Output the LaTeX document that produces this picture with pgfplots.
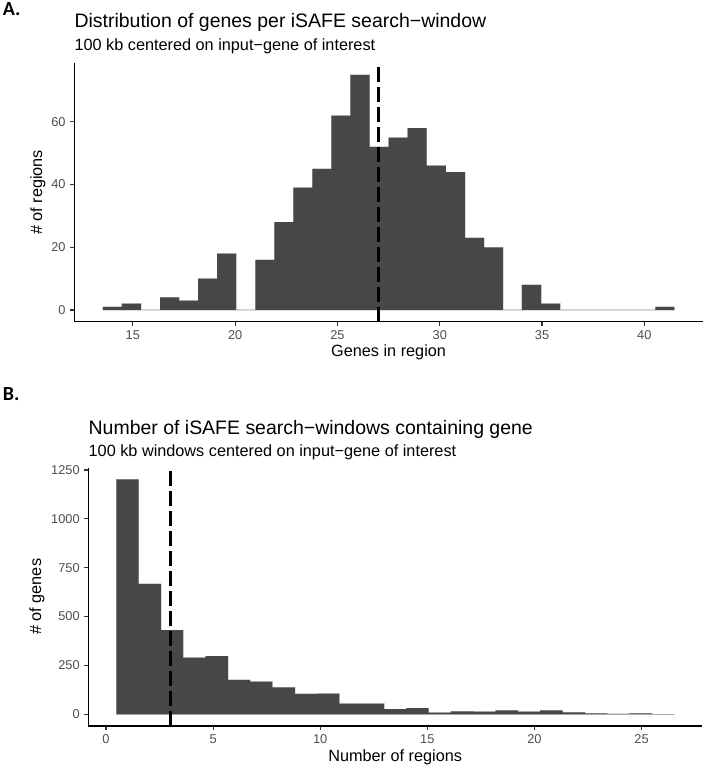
\documentclass[border=0pt]{standalone}
\usepackage{fontspec}
\setmainfont{Liberation Sans}
\newfontfamily\carlito{Carlito}
\usepackage{pgfplots}
\usepackage{pgfplotstable}
\pgfplotsset{compat=1.18}

\definecolor{barfill}{HTML}{474747}
\definecolor{barline}{HTML}{DADADA}
\definecolor{ticklab}{HTML}{4D4D4D}
\definecolor{tickcol}{HTML}{333333}

% genes per search window (30 bins, width 27/29)
\pgfplotstableread{
x count
14.000 1
14.931 2
15.862 0
16.793 4
17.724 3
18.655 10
19.586 18
20.517 0
21.448 16
22.379 28
23.310 39
24.241 45
25.172 62
26.103 75
27.034 52
27.966 55
28.897 58
29.828 46
30.759 44
31.690 23
32.621 20
33.552 0
34.483 8
35.414 2
36.345 0
37.276 0
38.207 0
39.138 0
40.069 0
41.000 1
}\genesTable

% windows containing gene (25 bins, width 25/24)
\pgfplotstableread{
x count
1.000 1202
2.042 667
3.083 430
4.125 290
5.167 297
6.208 176
7.250 167
8.292 138
9.333 104
10.375 106
11.417 55
12.458 54
13.500 26
14.542 31
15.583 9
16.625 15
17.667 13
18.708 20
19.750 13
20.792 20
21.833 10
22.875 5
23.917 2
24.958 5
26.000 1
}\windowsTable

\pgfplotsset{gg/.style={
  scale only axis,
  axis lines=left,
  axis line style={-, line width=1pt, black},
  tick align=outside,
  major tick length=3pt,
  tick style={tickcol, line width=0.9pt},
  ticklabel style={font=\fontsize{9.6}{11}\selectfont, text=ticklab},
  /pgf/number format/assume math mode=true,
  /pgf/number format/1000 sep={},
  label style={font=\fontsize{12.2}{14}\selectfont},
  xlabel style={anchor=base},
  ylabel style={anchor=center},
}}

\begin{document}
\begin{tikzpicture}
% page: 705 x 767 px at 0.75pt per px
\useasboundingbox (0,0) rectangle (528.75pt,-575.25pt);

\begin{axis}[gg,
  at={(55.7pt,-241.3pt)}, anchor=south west,
  width=471.5pt, height=194pt,
  xmin=12.137, xmax=42.863, ymin=-3.75, ymax=78.75,
  xtick={15,20,25,30,35,40}, ytick={0,20,40,60},
  xlabel={Genes in region}, ylabel={\# of regions},
  xlabel style={at={(axis description cs:0.5,-0.1353)}},
  ylabel style={at={(axis description cs:-0.0577,0.5)}},
]
% light outline first (shows on empty bins), then plain fill on top
\addplot[ybar, bar width=0.931, bar shift=0pt, fill=barfill, draw=barline, line width=0.4pt]
  table[x=x, y=count] {\genesTable};
\addplot[ybar, bar width=0.931, bar shift=0pt, fill=barfill, draw=none]
  table[x=x, y=count] {\genesTable};
\addplot[black, line width=2.4pt, dash pattern=on 11pt off 4pt]
  coordinates {(27,-3.75) (27,78.75)};
\end{axis}

\begin{axis}[gg,
  at={(66.3pt,-544.5pt)}, anchor=south west,
  width=460.2pt, height=193.8pt,
  xmin=-0.823, xmax=27.823, ymin=-60.1, ymax=1262.1,
  xtick={0,5,10,15,20,25}, ytick={0,250,500,750,1000,1250},
  xlabel={Number of regions}, ylabel={\# of genes},
  xlabel style={at={(axis description cs:0.5,-0.1354)}},
  ylabel style={at={(axis description cs:-0.0838,0.5)}},
]
\addplot[ybar, bar width=1.0417, bar shift=0pt, fill=barfill, draw=barline, line width=0.4pt]
  table[x=x, y=count] {\windowsTable};
\addplot[ybar, bar width=1.0417, bar shift=0pt, fill=barfill, draw=none]
  table[x=x, y=count] {\windowsTable};
\addplot[black, line width=2.4pt, dash pattern=on 11pt off 4pt]
  coordinates {(3,-60.1) (3,1262.1)};
\end{axis}

\node[anchor=base west, inner sep=0pt, font=\carlito\bfseries\fontsize{15}{17}\selectfont] at (2pt,-11.5pt) {A.};
\node[anchor=base west, inner sep=0pt, font=\fontsize{14.6}{17}\selectfont] at (55.7pt,-21pt) {Distribution of genes per iSAFE search−window};
\node[anchor=base west, inner sep=0pt, font=\fontsize{12.2}{14}\selectfont] at (55.7pt,-37.7pt) {100 kb centered on input−gene of interest};

\node[anchor=base west, inner sep=0pt, font=\carlito\bfseries\fontsize{15}{17}\selectfont] at (2pt,-300pt) {B.};
\node[anchor=base west, inner sep=0pt, font=\fontsize{14.6}{17}\selectfont] at (66.3pt,-325.5pt) {Number of iSAFE search−windows containing gene};
\node[anchor=base west, inner sep=0pt, font=\fontsize{12.2}{14}\selectfont] at (66.3pt,-342pt) {100 kb windows centered on input−gene of interest};
\end{tikzpicture}
\end{document}
